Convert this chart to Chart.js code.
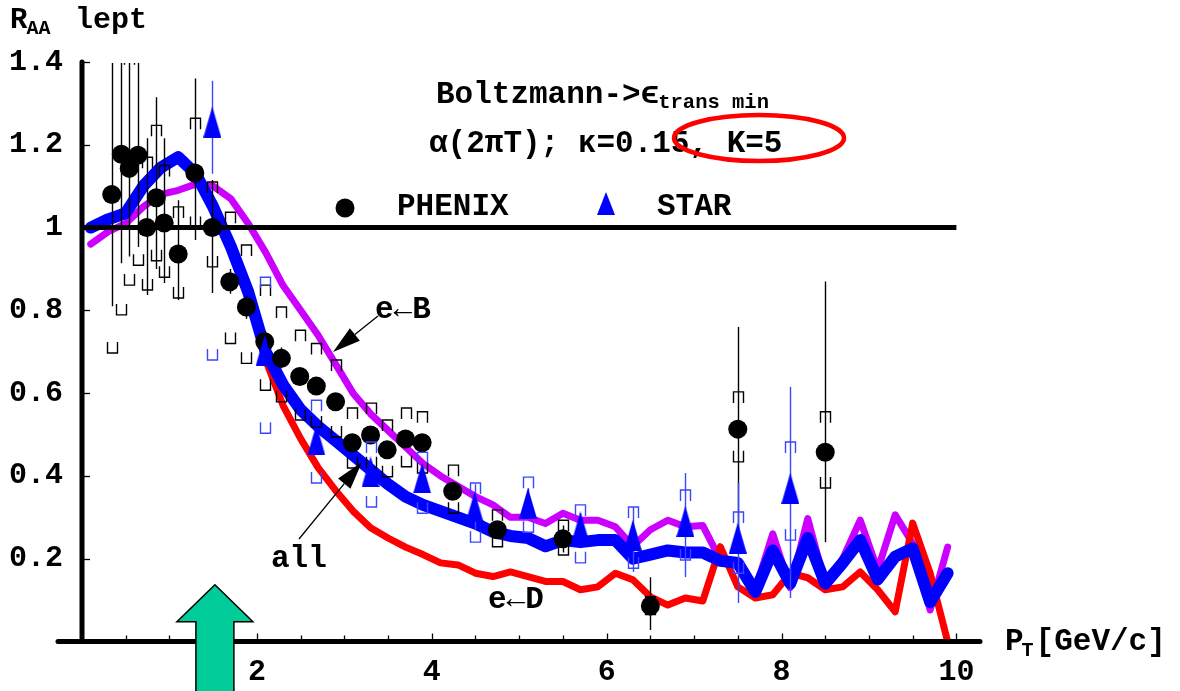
<!DOCTYPE html>
<html>
<head>
<meta charset="utf-8">
<title>R_AA lept</title>
<script src="https://cdn.jsdelivr.net/npm/chart.js@4.4.1/dist/chart.umd.min.js"></script>
<style>
  html, body { margin: 0; padding: 0; background: #fff; }
  #wrap { width: 1180px; height: 691px; }
</style>
</head>
<body>
<div id="wrap"><canvas id="raa" width="1180" height="691"></canvas></div>
<script>
"use strict";

// Model curves (pT grid in GeV/c)
const ptGrid = [0.1, 0.3, 0.5, 0.7, 0.9, 1.1, 1.3, 1.5, 1.7, 1.9,
                2.1, 2.3, 2.5, 2.7, 2.9, 3.1, 3.3, 3.5, 3.7, 3.9,
                4.1, 4.3, 4.5, 4.7, 4.9, 5.1, 5.3, 5.5, 5.7, 5.9,
                6.1, 6.3, 6.5, 6.7, 6.9, 7.1, 7.3, 7.5, 7.7, 7.9,
                8.1, 8.3, 8.5, 8.7, 8.9, 9.1, 9.3, 9.5, 9.7, 9.9];
const raaAll = [1.00, 1.02, 1.035, 1.10, 1.145, 1.17, 1.13, 1.05, 0.955, 0.845,
                0.70, 0.62, 0.56, 0.52, 0.485, 0.45, 0.415, 0.38, 0.35, 0.33,
                0.315, 0.30, 0.285, 0.265, 0.255, 0.25, 0.23, 0.245, 0.24, 0.245,
                0.245, 0.20, 0.21, 0.22, 0.215, 0.215, 0.195, 0.19, 0.12, 0.22,
                0.14, 0.25, 0.14, 0.19, 0.245, 0.15, 0.205, 0.225, 0.095, 0.165];
const raaFromB = [0.96, 0.99, 1.01, 1.05, 1.08, 1.09, 1.105, 1.10, 1.07, 1.01,
                  0.94, 0.86, 0.80, 0.74, 0.67, 0.60, 0.55, 0.51, 0.47, 0.43,
                  0.40, 0.375, 0.35, 0.33, 0.30, 0.30, 0.285, 0.31, 0.293, 0.293,
                  0.277, 0.23, 0.27, 0.293, 0.277, 0.28, 0.197, 0.19, 0.125, 0.26,
                  0.13, 0.297, 0.14, 0.20, 0.293, 0.173, 0.306, 0.237, 0.076, 0.228];
const raaFromD = [1.00, 1.02, 1.035, 1.10, 1.145, 1.175, 1.13, 1.05, 0.955, 0.84,
                  0.68, 0.57, 0.49, 0.42, 0.365, 0.315, 0.275, 0.25, 0.228, 0.21,
                  0.19, 0.185, 0.165, 0.157, 0.168, 0.157, 0.145, 0.145, 0.125, 0.132,
                  0.165, 0.149, 0.108, 0.088, 0.105, 0.098, 0.229, 0.132, 0.105, 0.113,
                  0.165, 0.154, 0.125, 0.132, 0.168, 0.125, 0.072, 0.286, 0.165, 0.0];

// PHENIX non-photonic electrons
const phenixPt  = [0.34, 0.45, 0.54, 0.64, 0.74, 0.85, 0.94, 1.10, 1.29, 1.49,
                   1.69, 1.88, 2.09, 2.28, 2.49, 2.68, 2.90, 3.09, 3.30, 3.49,
                   3.70, 3.89, 4.24, 4.75, 5.50, 6.50, 7.50, 8.50];
const phenixRaa = [1.08, 1.177, 1.143, 1.175, 1.0, 1.072, 1.011, 0.936, 1.132, 1.0,
                   0.869, 0.808, 0.724, 0.684, 0.640, 0.617, 0.579, 0.48, 0.499, 0.463,
                   0.489, 0.48, 0.363, 0.27, 0.248, 0.086, 0.513, 0.457];
const phenixStatLo = [0.81, 0.914, 0.93, 0.953, 0.837, 0.90, 0.866, 0.825, 0.97, 0.842,
                      0.84, 0.78, 0.70, 0.66, 0.62, 0.60, 0.56, 0.46, 0.48, 0.445,
                      0.47, 0.46, 0.345, 0.25, 0.215, 0.028, 0.27, 0.24];
const phenixStatHi = [1.45, 1.45, 1.45, 1.45, 1.216, 1.315, 1.216, 1.066, 1.36, 1.115,
                      0.90, 0.835, 0.75, 0.71, 0.66, 0.635, 0.60, 0.50, 0.52, 0.48,
                      0.51, 0.50, 0.38, 0.29, 0.28, 0.155, 0.76, 0.87];
const phenixSysLo = [0.697, 0.789, 0.861, 0.909, 0.849, 0.92, 0.88, 0.83, 1.0, 0.905,
                     0.72, 0.672, 0.607, 0.579, 0.535, 0.518, 0.494, 0.419, 0.42, 0.398,
                     0.422, 0.407, 0.31, 0.229, 0.209, 0.065, 0.434, 0.371];
const phenixSysHi = [1.46, 1.56, 1.42, 1.44, 1.17, 1.247, 1.15, 1.05, 1.264, 1.11,
                     1.037, 0.958, 0.861, 0.808, 0.752, 0.72, 0.68, 0.564, 0.576, 0.535,
                     0.564, 0.555, 0.426, 0.318, 0.293, 0.108, 0.603, 0.555];

// STAR non-photonic electrons
const starPt  = [1.49, 2.09, 2.68, 3.30, 3.89, 4.49, 5.10, 5.70, 6.30, 6.90, 7.50, 8.10];
const starRaa = [1.255, 0.704, 0.487, 0.41, 0.395, 0.325, 0.334, 0.277, 0.257, 0.29, 0.25, 0.37];
const starStatLo = [1.13, 0.67, 0.46, 0.38, 0.37, 0.27, 0.30, 0.24, 0.168, 0.156, 0.093, 0.105];
const starStatHi = [1.355, 0.73, 0.515, 0.435, 0.42, 0.38, 0.37, 0.31, 0.325, 0.407, 0.383, 0.615];
const starSysLo = [0.68, 0.503, 0.383, 0.325, 0.31, 0.24, 0.264, 0.19, 0.177, 0.197, 0.165, 0.245];
const starSysHi = [1.84, 0.88, 0.583, 0.482, 0.457, 0.383, 0.397, 0.33, 0.325, 0.366, 0.313, 0.482];

// Axes
const xTicks = [0.5, 1, 1.5, 2, 2.5, 3, 3.5, 4, 4.5, 5, 5.5, 6, 6.5, 7, 7.5, 8, 8.5, 9, 9.5, 10];
const xLabelled = [2, 4, 6, 8, 10];
const yTicks = [0.2, 0.4, 0.6, 0.8, 1, 1.2, 1.4];
const unityLevel = 1;
const unitySpan = [0, 10];
const kinkPt = 1.52;   // the green marker

const MONO = '"Liberation Mono", "Courier New", "DejaVu Sans Mono", monospace';
const MAGENTA = '#cc00ff';
const RED = '#ff0000';
const BLUE = '#0000ff';
const STAR_BAR = '#3a46ff';

function pairs(xs, ys) {
    return xs.map(function (x, i) { return {x: x, y: ys[i]}; });
}

// STAR marker: tall filled triangle
function triangleMarker(w, h, color) {
    var c = document.createElement('canvas');
    c.width = w;
    c.height = h;
    var g = c.getContext('2d');
    g.fillStyle = color;
    g.beginPath();
    g.moveTo(w / 2, 0);
    g.lineTo(w, h);
    g.lineTo(0, h);
    g.closePath();
    g.fill();
    return c;
}

// stat bars plus bracket-style systematic caps
function drawErrors(chart, xs, lo, hi, sysLo, sysHi, color) {
    var ctx = chart.ctx, sx = chart.scales.x, sy = chart.scales.y, a = chart.chartArea;
    ctx.save();
    ctx.beginPath();
    ctx.rect(a.left, a.top + 1, a.right - a.left, a.bottom - a.top);
    ctx.clip();
    ctx.strokeStyle = color;
    ctx.lineWidth = 1.4;
    xs.forEach(function (v, i) {
        var px = Math.round(sx.getPixelForValue(v)) + 0.5;
        ctx.beginPath();
        ctx.moveTo(px, sy.getPixelForValue(hi[i]));
        ctx.lineTo(px, sy.getPixelForValue(lo[i]));
        ctx.stroke();

        var top = sy.getPixelForValue(sysHi[i]);
        var bot = sy.getPixelForValue(sysLo[i]);
        var arm = Math.min(11, (bot - top) / 2);
        ctx.beginPath();
        ctx.moveTo(px - 5, top + arm);
        ctx.lineTo(px - 5, top);
        ctx.lineTo(px + 5, top);
        ctx.lineTo(px + 5, top + arm);
        ctx.moveTo(px - 5, bot - arm);
        ctx.lineTo(px - 5, bot);
        ctx.lineTo(px + 5, bot);
        ctx.lineTo(px + 5, bot - arm);
        ctx.stroke();
    });
    ctx.restore();
}

function arrowLine(ctx, x0, y0, x1, y1, len, half) {
    var ang = Math.atan2(y1 - y0, x1 - x0);
    var bx = x1 - len * Math.cos(ang), by = y1 - len * Math.sin(ang);
    ctx.beginPath();
    ctx.moveTo(x0, y0);
    ctx.lineTo(bx, by);
    ctx.stroke();
    ctx.beginPath();
    ctx.moveTo(x1, y1);
    ctx.lineTo(bx + half * Math.sin(ang), by - half * Math.cos(ang));
    ctx.lineTo(bx - half * Math.sin(ang), by + half * Math.cos(ang));
    ctx.closePath();
    ctx.fill();
}

function text(ctx, s, x, y, size) {
    ctx.font = 'bold ' + size + 'px ' + MONO;
    ctx.fillText(s, x, y);
    return x + ctx.measureText(s).width;
}

var errorBars = {
    id: 'errorBars',
    beforeDatasetDraw: function (chart, args) {
        var lbl = chart.data.datasets[args.index].label;
        if (lbl === 'PHENIX') {
            drawErrors(chart, phenixPt, phenixStatLo, phenixStatHi, phenixSysLo, phenixSysHi, '#000');
        } else if (lbl === 'STAR') {
            drawErrors(chart, starPt, starStatLo, starStatHi, starSysLo, starSysHi, STAR_BAR);
        }
    }
};

var frame = {
    id: 'frame',
    afterDatasetsDraw: function (chart) {
        var ctx = chart.ctx, sx = chart.scales.x, sy = chart.scales.y, a = chart.chartArea;
        var x0 = sx.getPixelForValue(0), y0 = sy.getPixelForValue(0);
        ctx.save();
        ctx.strokeStyle = '#000';
        ctx.lineCap = 'round';
        ctx.lineWidth = 5;
        ctx.beginPath();
        ctx.moveTo(x0, sy.getPixelForValue(1.4));
        ctx.lineTo(x0, y0);
        ctx.stroke();
        ctx.beginPath();
        ctx.moveTo(x0 - 24, y0);
        ctx.lineTo(a.right, y0);
        ctx.stroke();

        ctx.lineCap = 'butt';
        ctx.lineWidth = 1.3;
        xTicks.forEach(function (v) {
            var px = Math.round(sx.getPixelForValue(v)) + 0.5;
            var len = xLabelled.indexOf(v) >= 0 ? 6 : 4;
            ctx.beginPath();
            ctx.moveTo(px, y0 - 2);
            ctx.lineTo(px, y0 - 2 - len);
            ctx.stroke();
        });
        yTicks.forEach(function (v) {
            var py = Math.round(sy.getPixelForValue(v)) + 0.5;
            ctx.beginPath();
            ctx.moveTo(x0 + 2, py);
            ctx.lineTo(x0 + 8, py);
            ctx.stroke();
        });
        ctx.restore();
    }
};

var notes = {
    id: 'notes',
    afterDraw: function (chart) {
        var ctx = chart.ctx, sx = chart.scales.x, sy = chart.scales.y;
        ctx.save();
        ctx.fillStyle = '#000';
        ctx.textBaseline = 'alphabetic';
        ctx.textAlign = 'left';

        // axis titles
        var x = text(ctx, 'R', 10, 28, 29);
        text(ctx, 'AA', x - 1, 34, 20);
        text(ctx, 'lept', 75, 28, 30);
        x = text(ctx, 'P', 1005, 650, 31);
        x = text(ctx, 'T', x - 2, 656, 20);
        text(ctx, '[GeV/c]', x + 2, 650, 31);

        // model description
        x = text(ctx, 'Boltzmann->\u03f5', 436, 103, 31);
        text(ctx, 'trans min', x - 1, 108, 20.5);
        text(ctx, '\u03b1(2\u03c0T); \u03ba=0.15, K=5', 429, 152, 31);
        ctx.strokeStyle = RED;
        ctx.lineWidth = 4.5;
        ctx.beginPath();
        ctx.ellipse(759, 138, 85, 23, 0, 0, Math.PI * 2);
        ctx.stroke();

        // key
        ctx.beginPath();
        ctx.arc(345, 208, 9.5, 0, Math.PI * 2);
        ctx.fill();
        text(ctx, 'PHENIX', 397, 215, 31);
        ctx.fillStyle = BLUE;
        ctx.beginPath();
        ctx.moveTo(606, 192);
        ctx.lineTo(615, 215);
        ctx.lineTo(597, 215);
        ctx.closePath();
        ctx.fill();
        ctx.fillStyle = '#000';
        text(ctx, 'STAR', 657, 215, 31);

        // curve labels
        ctx.strokeStyle = '#000';
        ctx.lineWidth = 1.3;
        text(ctx, 'e\u2190B', 375, 318, 31);
        arrowLine(ctx, 378, 316, 333, 352, 28, 8);
        text(ctx, 'all', 271, 567, 31);
        arrowLine(ctx, 299, 539, 362, 462, 28, 8);
        text(ctx, 'e\u2190D', 488, 608, 31);

        // green marker arrow
        var cx = sx.getPixelForValue(kinkPt);
        var tip = sy.getPixelForValue(0.137);
        ctx.fillStyle = '#00cc99';
        ctx.strokeStyle = '#000';
        ctx.lineWidth = 1.5;
        ctx.beginPath();
        ctx.moveTo(cx, tip);
        ctx.lineTo(cx + 38, tip + 37);
        ctx.lineTo(cx + 19, tip + 37);
        ctx.lineTo(cx + 19, 700);
        ctx.lineTo(cx - 19, 700);
        ctx.lineTo(cx - 19, tip + 37);
        ctx.lineTo(cx - 38, tip + 37);
        ctx.closePath();
        ctx.fill();
        ctx.stroke();
        ctx.restore();
    }
};

var curve = function (label, ys, color, width, order) {
    return {
        label: label,
        data: pairs(ptGrid, ys),
        showLine: true,
        borderColor: color,
        borderWidth: width,
        borderCapStyle: 'round',
        borderJoinStyle: 'round',
        pointRadius: 0,
        order: order
    };
};

var ctx = document.getElementById('raa').getContext('2d');
var raaChart = new Chart(ctx, {
    type: 'scatter',
    data: {
        datasets: [
            {
                label: 'STAR',
                data: pairs(starPt, starRaa),
                pointStyle: triangleMarker(18, 31, BLUE),
                pointRadius: 10,
                order: 0
            },
            {
                label: 'PHENIX',
                data: pairs(phenixPt, phenixRaa),
                pointStyle: 'circle',
                pointRadius: 9.5,
                backgroundColor: '#000',
                borderWidth: 0,
                order: 1
            },
            {
                label: 'unity',
                data: pairs(unitySpan, [unityLevel, unityLevel]),
                showLine: true,
                borderColor: '#000',
                borderWidth: 5,
                pointRadius: 0,
                order: 2
            },
            curve('all', raaAll, BLUE, 12, 3),
            curve('e<-D', raaFromD, RED, 7, 4),
            curve('e<-B', raaFromB, MAGENTA, 7, 5)
        ]
    },
    options: {
        responsive: false,
        animation: false,
        events: [],
        layout: {padding: {left: 0, right: 200, top: 62, bottom: 0}},
        plugins: {
            legend: {display: false},
            tooltip: {enabled: false}
        },
        scales: {
            x: {
                type: 'linear',
                min: 0,
                max: 10.27,
                grid: {display: false, drawTicks: false},
                border: {display: false},
                afterBuildTicks: function (s) {
                    s.ticks = xTicks.map(function (v) { return {value: v}; });
                },
                afterFit: function (s) { s.height = 49.5; },
                ticks: {
                    autoSkip: false,
                    maxRotation: 0,
                    padding: 13,
                    color: '#000',
                    font: {family: MONO, size: 30, weight: 'bold'},
                    callback: function (v) { return xLabelled.indexOf(v) >= 0 ? String(v) : ''; }
                }
            },
            y: {
                type: 'linear',
                min: 0,
                max: 1.4,
                grid: {display: false, drawTicks: false},
                border: {display: false},
                afterBuildTicks: function (s) {
                    s.ticks = yTicks.map(function (v) { return {value: v}; });
                },
                afterFit: function (s) { s.width = 82; },
                ticks: {
                    autoSkip: false,
                    padding: 19,
                    color: '#000',
                    font: {family: MONO, size: 30, weight: 'bold'},
                    callback: function (v) { return String(v); }
                }
            }
        }
    },
    plugins: [errorBars, frame, notes]
});
</script>
</body>
</html>
